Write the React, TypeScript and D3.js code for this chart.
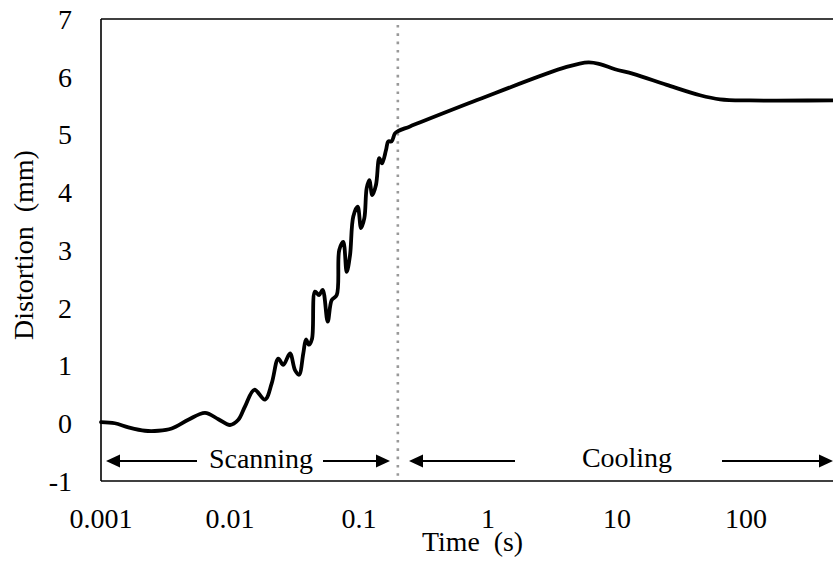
import React from "react";
import * as d3 from "d3";

// Distortion history over a scanning + cooling cycle (log time axis)
const timeS: number[] = [
  0.001, 0.00128, 0.00163, 0.00219, 0.00278, 0.00353, 0.00475, 0.0064, 0.00812, 0.01,
  0.0116, 0.01307, 0.01543, 0.01867, 0.02105, 0.02368, 0.02588, 0.02918, 0.0319, 0.0343,
  0.037, 0.0388, 0.0409, 0.0432, 0.0456, 0.049, 0.0523, 0.0572, 0.0614, 0.0672,
  0.0703, 0.0755, 0.0803, 0.0852, 0.0903, 0.0977, 0.1037, 0.11, 0.1147, 0.1202,
  0.1268, 0.1355, 0.1436, 0.1507, 0.162, 0.1687, 0.179, 0.19, 0.2017, 0.2485,
  0.769, 4.07, 6.0, 7.38, 9.65, 13.37, 24.3, 44.0,
  62.9, 107.4, 472, 1000,
];
const distortionMm: number[] = [
  0.02, 0.0, -0.07, -0.13, -0.13, -0.09, 0.06, 0.18, 0.07, -0.03,
  0.06, 0.29, 0.58, 0.41, 0.69, 1.12, 1.01, 1.21, 0.92, 0.84,
  1.21, 1.45, 1.36, 1.46, 2.28, 2.22, 2.31, 1.76, 2.13, 2.22,
  3.0, 3.14, 2.62, 2.91, 3.58, 3.75, 3.38, 3.55, 4.07, 4.21,
  3.95, 4.13, 4.59, 4.5, 4.73, 4.88, 4.88, 5.02, 5.06, 5.14,
  5.57, 6.17, 6.25, 6.22, 6.13, 6.05, 5.86, 5.68,
  5.61, 5.59, 5.59, 5.59,
];

const xTickValues: number[] = [0.001, 0.01, 0.1, 1, 10, 100];
const xTickLabels: string[] = ["0.001", "0.01", "0.1", "1", "10", "100"];
const yTickValues: number[] = [-1, 0, 1, 2, 3, 4, 5, 6, 7];

const phaseBoundary = 0.2; // end of scanning, start of cooling (s)

const W = 833;
const H = 561;
const left = 101;
const right = 875;
const top = 19;
const bottom = 481;

const FONT = `"Liberation Serif", monospace`;
const NBSP = "\u00A0";

function Label(props: {
  x: number;
  y: number;
  dy?: string;
  anchor?: "start" | "middle" | "end";
  transform?: string;
  textLength?: number;
  children: React.ReactNode;
}) {
  return (
    <text
      x={props.x}
      y={props.y}
      dy={props.dy}
      transform={props.transform}
      textAnchor={props.anchor || "start"}
      fontSize={28}
      fontFamily="Liberation Serif"
      textLength={props.textLength}
      lengthAdjust={props.textLength ? "spacingAndGlyphs" : undefined}
      style={{ fontFamily: FONT }}
    >
      {props.children}
    </text>
  );
}

export default function App() {
  const x = d3.scaleLog().domain([0.001, 1000]).range([left, right]);
  const y = d3.scaleLinear().domain([-1, 7]).range([bottom, top]);

  const pts: [number, number][] = timeS.map((t, i) => [x(t), y(distortionMm[i])]);
  const line = d3.line().curve(d3.curveCatmullRom.alpha(0.5))(pts) || "";

  const arrowY = 461;
  const head = (tipX: number, dir: 1 | -1) => {
    const len = 14;
    const half = 6.5;
    return `M${tipX},${arrowY} L${tipX - dir * len},${arrowY - half} L${tipX - dir * len},${arrowY + half} Z`;
  };

  const bx = x(phaseBoundary);

  return (
    <div style={{ position: "absolute", left: 0, top: 0, width: W, height: H, overflow: "hidden" }}>
      <svg width={W} height={H}>
        <rect x={0} y={0} width={W} height={H} fill="#fff" />

        {/* phase boundary */}
        <line
          x1={bx}
          x2={bx}
          y1={25}
          y2={bottom}
          stroke="#999"
          strokeWidth={2.6}
          strokeDasharray="2.6 5.7"
        />

        {/* axes frame */}
        <line x1={left} x2={W + 2} y1={top} y2={top} stroke="#000" strokeWidth={1.6} />
        <line x1={left} x2={W + 2} y1={bottom} y2={bottom} stroke="#000" strokeWidth={1.6} />
        <line x1={left} x2={left} y1={top} y2={bottom} stroke="#000" strokeWidth={1.6} />

        {/* data */}
        <path d={line} fill="none" stroke="#000" strokeWidth={3.8} strokeLinejoin="round" strokeLinecap="round" />

        {/* y tick labels */}
        {yTickValues.map((v) => (
          <Label key={v} x={72} y={y(v)} dy="0.35em" anchor="end">
            {String(v)}
          </Label>
        ))}

        {/* x tick labels */}
        {xTickValues.map((v, i) => (
          <Label key={v} x={x(v)} y={528} anchor="middle">
            {xTickLabels[i]}
          </Label>
        ))}

        {/* axis titles */}
        <Label x={422} y={551} textLength={101}>
          {`Time ${NBSP}(s)`}
        </Label>
        <Label x={0} y={0} transform="translate(33,245) rotate(-90)" anchor="middle">
          {`Distortion ${NBSP}(mm)`}
        </Label>

        {/* phase annotations */}
        <g stroke="#000" strokeWidth={1.8}>
          <line x1={110} x2={197} y1={arrowY} y2={arrowY} />
          <line x1={323} x2={386} y1={arrowY} y2={arrowY} />
          <line x1={413} x2={515} y1={arrowY} y2={arrowY} />
          <line x1={722} x2={826} y1={arrowY} y2={arrowY} />
        </g>
        <path d={head(106, -1)} fill="#000" />
        <path d={head(390, 1)} fill="#000" />
        <path d={head(409, -1)} fill="#000" />
        <path d={head(833, 1)} fill="#000" />
        <Label x={261} y={468} anchor="middle">
          Scanning
        </Label>
        <Label x={627} y={467} anchor="middle">
          Cooling
        </Label>
      </svg>
    </div>
  );
}
